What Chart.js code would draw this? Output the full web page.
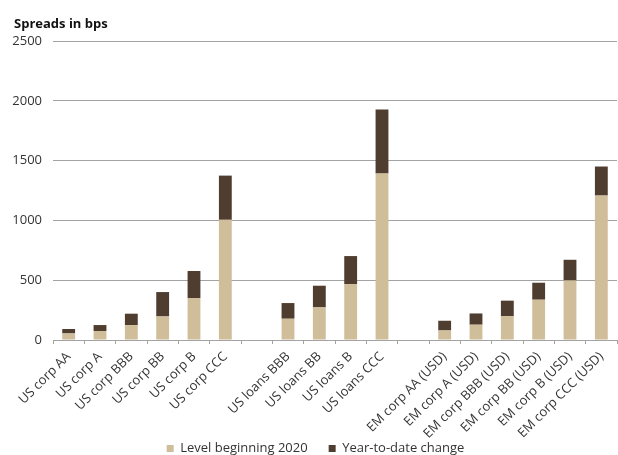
<!DOCTYPE html>
<html>
<head>
<meta charset="utf-8">
<script src="https://cdn.jsdelivr.net/npm/chart.js@4/dist/chart.umd.min.js"></script>
<style>
  html, body { margin: 0; padding: 0; background: #fff; overflow: hidden; }
  #wrap { width: 618px; height: 465px; position: relative; }
</style>
</head>
<body>
<div id="wrap"><canvas id="spreadChart"></canvas></div>
<script>
const categories = [
  "US corp AA", "US corp A", "US corp BBB", "US corp BB", "US corp B", "US corp CCC",
  "",
  "US loans BBB", "US loans BB", "US loans B", "US loans CCC",
  "",
  "EM corp AA (USD)", "EM corp A (USD)", "EM corp BBB (USD)", "EM corp BB (USD)", "EM corp B (USD)", "EM corp CCC (USD)"
];
const levelStart2020 = [55, 75, 125, 197, 351, 1005, null, 178, 273, 468, 1392, null, 80, 128, 200, 337, 498, 1208];
const ytdChange = [37, 50, 95, 204, 226, 370, null, 131, 181, 234, 536, null, 81, 94, 129, 142, 173, 243];
const yTicks = [0, 500, 1000, 1500, 2000, 2500];

const tan = "#d0bd99";
const brown = "#4f3d30";
const gridGray = "#a3a3a3";
const textColor = "#333333";

Chart.defaults.font.family = "'Open Sans', 'Noto Sans', Arial, sans-serif";
Chart.defaults.color = textColor;

// long rotated labels run past the axis box, so don't clip them to it
const noLabelClip = s => { s._computeLabelArea = () => undefined; };

new Chart(document.getElementById("spreadChart"), {
  type: "bar",
  data: {
    labels: categories,
    datasets: [
      { label: "Level beginning 2020", data: levelStart2020, backgroundColor: tan, borderWidth: 0 },
      { label: "Year-to-date change", data: ytdChange, backgroundColor: brown, borderWidth: 0 }
    ]
  },
  options: {
    responsive: true,
    maintainAspectRatio: false,
    animation: false,
    layout: { padding: { left: 14, right: 1, top: 0, bottom: 0 } },
    datasets: { bar: { categoryPercentage: 1, barPercentage: 0.41 } },
    plugins: {
      title: {
        display: true,
        text: "Spreads in bps",
        align: "start",
        color: "#111",
        font: { size: 13, weight: "bold" },
        padding: { top: 16, bottom: 9.5 }
      },
      legend: {
        position: "bottom",
        labels: {
          boxWidth: 7,
          boxHeight: 7,
          padding: 21,
          color: textColor,
          font: { size: 13 }
        }
      },
      tooltip: { enabled: false }
    },
    scales: {
      x: {
        stacked: true,
        afterFit: s => { s.height = 81; noLabelClip(s); },
        border: { display: true, color: gridGray },
        grid: { display: true, drawOnChartArea: false, drawTicks: true, tickLength: 4, color: gridGray, offset: true },
        ticks: {
          autoSkip: false,
          maxRotation: 45,
          minRotation: 45,
          padding: 5,
          color: textColor,
          font: { size: 13 }
        }
      },
      y: {
        stacked: true,
        min: 0,
        max: 2500,
        afterFit: s => { s.width = 39; noLabelClip(s); },
        afterBuildTicks: s => { s.ticks = yTicks.map(v => ({ value: v })); },
        border: { display: false },
        grid: { color: gridGray, drawTicks: false },
        ticks: { padding: 11, color: textColor, font: { size: 13 }, callback: v => String(v) }
      }
    }
  }
});
</script>
</body>
</html>
